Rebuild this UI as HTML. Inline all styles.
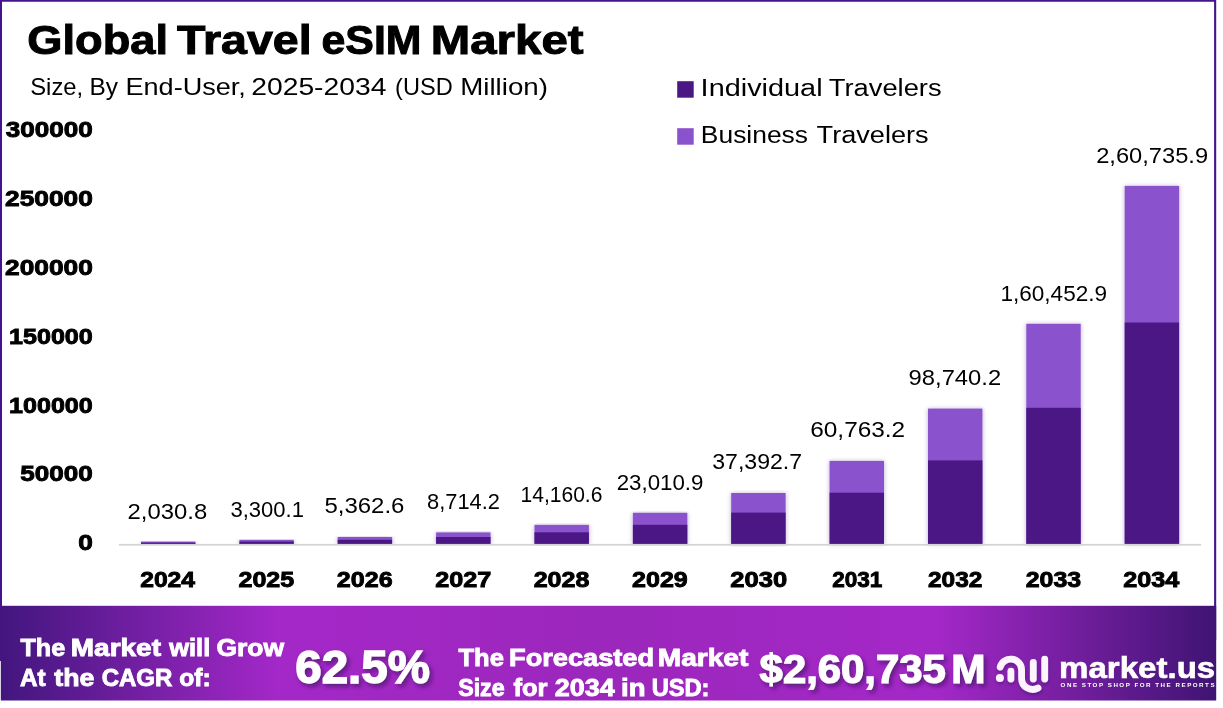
<!DOCTYPE html>
<html lang="en"><head><meta charset="utf-8"><title>Global Travel eSIM Market</title>
<style>
html,body{margin:0;padding:0;background:#fff;}
body{width:1223px;height:708px;overflow:hidden;font-family:"Liberation Sans", sans-serif;}
svg{display:block;}
text{font-family:"Liberation Sans", sans-serif;}
.b{font-weight:700;}
.w{fill:#fff;}
</style></head><body>
<svg width="1223" height="708" viewBox="0 0 1223 708">
<defs>
<linearGradient id="bg" x1="0" y1="0" x2="1" y2="0">
<stop offset="0" stop-color="#42167e"/>
<stop offset="0.23" stop-color="#a428c8"/>
<stop offset="0.5" stop-color="#9c27bc"/>
<stop offset="0.77" stop-color="#a428c8"/>
<stop offset="1" stop-color="#3f1473"/>
</linearGradient>
<filter id="sh" x="-20%" y="-5%" width="140%" height="110%"><feGaussianBlur stdDeviation="2"/></filter>
<filter id="ls" x="-20%" y="-20%" width="140%" height="160%"><feDropShadow dx="0.5" dy="2" stdDeviation="1.5" flood-color="#2a0a50" flood-opacity="0.35"/></filter>
<filter id="ts" x="-10%" y="-20%" width="120%" height="150%"><feDropShadow dx="2.5" dy="3" stdDeviation="2.2" flood-color="#2a0a50" flood-opacity="0.6"/></filter>
</defs>
<rect x="0" y="0" width="1223" height="708" fill="#ffffff"/>
<!-- frame -->
<path d="M0 0H1216.2V640H1214.1V1.8H2V640H0Z" fill="#44138e"/>
<g>
<text x="27.39" y="53.9" font-size="41.2" textLength="140.68" lengthAdjust="spacingAndGlyphs" class="b" stroke="#000" stroke-width="1.0">Global</text>
<text x="177.00" y="53.9" font-size="41.2" textLength="134.65" lengthAdjust="spacingAndGlyphs" class="b" stroke="#000" stroke-width="1.0">Travel</text>
<text x="321.56" y="53.9" font-size="41.2" textLength="99.95" lengthAdjust="spacingAndGlyphs" class="b" stroke="#000" stroke-width="1.0">eSIM</text>
<text x="430.84" y="53.9" font-size="41.2" textLength="152.69" lengthAdjust="spacingAndGlyphs" class="b" stroke="#000" stroke-width="1.0">Market</text>
</g>
<g>
<text x="30.26" y="95.2" font-size="23.7" textLength="52.92" lengthAdjust="spacingAndGlyphs">Size,</text>
<text x="89.49" y="95.2" font-size="23.7" textLength="28.51" lengthAdjust="spacingAndGlyphs">By</text>
<text x="125.48" y="95.2" font-size="23.7" textLength="120.44" lengthAdjust="spacingAndGlyphs">End-User,</text>
<text x="251.28" y="95.2" font-size="23.7" textLength="135.13" lengthAdjust="spacingAndGlyphs">2025-2034</text>
<text x="395.09" y="95.2" font-size="23.7" textLength="57.62" lengthAdjust="spacingAndGlyphs">(USD</text>
<text x="460.23" y="95.2" font-size="23.7" textLength="87.80" lengthAdjust="spacingAndGlyphs">Million)</text>
</g>
<rect x="677.2" y="81.2" width="16.5" height="16.5" fill="#4b1785"/>
<rect x="677.2" y="128.2" width="16.5" height="16.5" fill="#8b52ce"/>
<text x="700.64" y="96.3" font-size="23.3" textLength="121.96" lengthAdjust="spacingAndGlyphs">Individual</text>
<text x="828.77" y="96.3" font-size="23.3" textLength="112.88" lengthAdjust="spacingAndGlyphs">Travelers</text>
<text x="700.84" y="142.9" font-size="23.3" textLength="107.19" lengthAdjust="spacingAndGlyphs">Business</text>
<text x="816.58" y="142.9" font-size="23.3" textLength="112.07" lengthAdjust="spacingAndGlyphs">Travelers</text>
<text x="78.23" y="550.1" font-size="22.5" textLength="14.58" lengthAdjust="spacingAndGlyphs" class="b" stroke="#000" stroke-width="0.9">0</text>
<text x="20.34" y="481.3" font-size="22.5" textLength="72.46" lengthAdjust="spacingAndGlyphs" class="b" stroke="#000" stroke-width="0.9">50000</text>
<text x="9.08" y="412.5" font-size="22.5" textLength="83.68" lengthAdjust="spacingAndGlyphs" class="b" stroke="#000" stroke-width="0.9">100000</text>
<text x="9.08" y="343.8" font-size="22.5" textLength="83.68" lengthAdjust="spacingAndGlyphs" class="b" stroke="#000" stroke-width="0.9">150000</text>
<text x="5.03" y="275.0" font-size="22.5" textLength="87.79" lengthAdjust="spacingAndGlyphs" class="b" stroke="#000" stroke-width="0.9">200000</text>
<text x="5.03" y="206.2" font-size="22.5" textLength="87.79" lengthAdjust="spacingAndGlyphs" class="b" stroke="#000" stroke-width="0.9">250000</text>
<text x="5.84" y="137.4" font-size="22.5" textLength="86.96" lengthAdjust="spacingAndGlyphs" class="b" stroke="#000" stroke-width="0.9">300000</text>
<rect x="140.5" y="541.6" width="55.4" height="2.8" fill="#5a3a90" opacity="0.35" filter="url(#sh)"/>
<rect x="141.0" y="541.6" width="54.4" height="2.8" fill="#8b52ce"/>
<rect x="141.0" y="542.7" width="54.4" height="1.7" fill="#4b1785"/>
<rect x="238.9" y="539.9" width="55.4" height="4.5" fill="#5a3a90" opacity="0.35" filter="url(#sh)"/>
<rect x="239.4" y="539.9" width="54.4" height="4.5" fill="#8b52ce"/>
<rect x="239.4" y="541.6" width="54.4" height="2.8" fill="#4b1785"/>
<rect x="337.2" y="537.0" width="55.4" height="7.4" fill="#5a3a90" opacity="0.35" filter="url(#sh)"/>
<rect x="337.7" y="537.0" width="54.4" height="7.4" fill="#8b52ce"/>
<rect x="337.7" y="539.8" width="54.4" height="4.6" fill="#4b1785"/>
<rect x="435.6" y="532.4" width="55.4" height="12.0" fill="#5a3a90" opacity="0.35" filter="url(#sh)"/>
<rect x="436.1" y="532.4" width="54.4" height="12.0" fill="#8b52ce"/>
<rect x="436.1" y="537.0" width="54.4" height="7.4" fill="#4b1785"/>
<rect x="534.0" y="524.9" width="55.4" height="19.5" fill="#5a3a90" opacity="0.35" filter="url(#sh)"/>
<rect x="534.5" y="524.9" width="54.4" height="19.5" fill="#8b52ce"/>
<rect x="534.5" y="532.3" width="54.4" height="12.1" fill="#4b1785"/>
<rect x="632.4" y="512.8" width="55.4" height="31.6" fill="#5a3a90" opacity="0.35" filter="url(#sh)"/>
<rect x="632.9" y="512.8" width="54.4" height="31.6" fill="#8b52ce"/>
<rect x="632.9" y="524.8" width="54.4" height="19.6" fill="#4b1785"/>
<rect x="730.7" y="493.0" width="55.4" height="51.4" fill="#5a3a90" opacity="0.35" filter="url(#sh)"/>
<rect x="731.2" y="493.0" width="54.4" height="51.4" fill="#8b52ce"/>
<rect x="731.2" y="512.6" width="54.4" height="31.8" fill="#4b1785"/>
<rect x="829.1" y="460.9" width="55.4" height="83.5" fill="#5a3a90" opacity="0.35" filter="url(#sh)"/>
<rect x="829.6" y="460.9" width="54.4" height="83.5" fill="#8b52ce"/>
<rect x="829.6" y="492.7" width="54.4" height="51.7" fill="#4b1785"/>
<rect x="927.5" y="408.6" width="55.4" height="135.8" fill="#5a3a90" opacity="0.35" filter="url(#sh)"/>
<rect x="928.0" y="408.6" width="54.4" height="135.8" fill="#8b52ce"/>
<rect x="928.0" y="460.4" width="54.4" height="84.0" fill="#4b1785"/>
<rect x="1025.8" y="323.8" width="55.4" height="220.6" fill="#5a3a90" opacity="0.35" filter="url(#sh)"/>
<rect x="1026.3" y="323.8" width="54.4" height="220.6" fill="#8b52ce"/>
<rect x="1026.3" y="407.8" width="54.4" height="136.6" fill="#4b1785"/>
<rect x="1124.2" y="185.9" width="55.4" height="358.5" fill="#5a3a90" opacity="0.35" filter="url(#sh)"/>
<rect x="1124.7" y="185.9" width="54.4" height="358.5" fill="#8b52ce"/>
<rect x="1124.7" y="322.5" width="54.4" height="221.9" fill="#4b1785"/>
<rect x="119" y="543.9" width="1082" height="1.7" fill="#d3d3d3"/>
<text x="127.58" y="518.5" font-size="22.5" textLength="79.58" lengthAdjust="spacingAndGlyphs">2,030.8</text>
<text x="230.51" y="516.6" font-size="22.5" textLength="73.48" lengthAdjust="spacingAndGlyphs">3,300.1</text>
<text x="324.45" y="512.9" font-size="22.5" textLength="80.02" lengthAdjust="spacingAndGlyphs">5,362.6</text>
<text x="427.12" y="509.3" font-size="22.5" textLength="72.77" lengthAdjust="spacingAndGlyphs">8,714.2</text>
<text x="520.48" y="501.5" font-size="22.5" textLength="81.97" lengthAdjust="spacingAndGlyphs">14,160.6</text>
<text x="616.66" y="489.8" font-size="22.5" textLength="86.75" lengthAdjust="spacingAndGlyphs">23,010.9</text>
<text x="712.28" y="469.0" font-size="22.5" textLength="89.86" lengthAdjust="spacingAndGlyphs">37,392.7</text>
<text x="810.26" y="437.1" font-size="22.5" textLength="94.93" lengthAdjust="spacingAndGlyphs">60,763.2</text>
<text x="908.59" y="385.2" font-size="22.5" textLength="92.58" lengthAdjust="spacingAndGlyphs">98,740.2</text>
<text x="1000.49" y="301.1" font-size="22.5" textLength="106.52" lengthAdjust="spacingAndGlyphs">1,60,452.9</text>
<text x="1096.19" y="162.7" font-size="22.5" textLength="111.87" lengthAdjust="spacingAndGlyphs">2,60,735.9</text>
<text x="140.18" y="587.3" font-size="22.5" textLength="54.91" lengthAdjust="spacingAndGlyphs" class="b" stroke="#000" stroke-width="0.9">2024</text>
<text x="238.47" y="587.3" font-size="22.5" textLength="55.71" lengthAdjust="spacingAndGlyphs" class="b" stroke="#000" stroke-width="0.9">2025</text>
<text x="336.87" y="587.3" font-size="22.5" textLength="55.71" lengthAdjust="spacingAndGlyphs" class="b" stroke="#000" stroke-width="0.9">2026</text>
<text x="435.26" y="587.3" font-size="22.5" textLength="56.11" lengthAdjust="spacingAndGlyphs" class="b" stroke="#000" stroke-width="0.9">2027</text>
<text x="533.67" y="587.3" font-size="22.5" textLength="55.71" lengthAdjust="spacingAndGlyphs" class="b" stroke="#000" stroke-width="0.9">2028</text>
<text x="632.07" y="587.3" font-size="22.5" textLength="55.71" lengthAdjust="spacingAndGlyphs" class="b" stroke="#000" stroke-width="0.9">2029</text>
<text x="730.35" y="587.3" font-size="22.5" textLength="56.83" lengthAdjust="spacingAndGlyphs" class="b" stroke="#000" stroke-width="0.9">2030</text>
<text x="832.15" y="587.3" font-size="22.5" textLength="50.17" lengthAdjust="spacingAndGlyphs" class="b" stroke="#000" stroke-width="0.9">2031</text>
<text x="927.99" y="587.3" font-size="22.5" textLength="54.37" lengthAdjust="spacingAndGlyphs" class="b" stroke="#000" stroke-width="0.9">2032</text>
<text x="1025.67" y="587.3" font-size="22.5" textLength="55.50" lengthAdjust="spacingAndGlyphs" class="b" stroke="#000" stroke-width="0.9">2033</text>
<text x="1123.26" y="587.3" font-size="22.5" textLength="56.13" lengthAdjust="spacingAndGlyphs" class="b" stroke="#000" stroke-width="0.9">2034</text>
<rect x="0" y="605.8" width="1216.2" height="94.7" fill="url(#bg)"/>
<rect x="0" y="661" width="0.8" height="40" fill="#fff"/>
<text x="20.45" y="655.6" font-size="24.3" textLength="44.73" lengthAdjust="spacingAndGlyphs" class="b w" stroke="#fff" stroke-width="0.9">The</text>
<text x="70.80" y="655.6" font-size="24.3" textLength="90.19" lengthAdjust="spacingAndGlyphs" class="b w" stroke="#fff" stroke-width="0.9">Market</text>
<text x="169.25" y="655.6" font-size="24.3" textLength="41.01" lengthAdjust="spacingAndGlyphs" class="b w" stroke="#fff" stroke-width="0.9">will</text>
<text x="216.42" y="655.6" font-size="24.3" textLength="67.64" lengthAdjust="spacingAndGlyphs" class="b w" stroke="#fff" stroke-width="0.9">Grow</text>
<text x="20.07" y="685.7" font-size="24.3" textLength="25.60" lengthAdjust="spacingAndGlyphs" class="b w" stroke="#fff" stroke-width="0.9">At</text>
<text x="54.35" y="685.7" font-size="24.3" textLength="40.07" lengthAdjust="spacingAndGlyphs" class="b w" stroke="#fff" stroke-width="0.9">the</text>
<text x="101.70" y="685.7" font-size="24.3" textLength="70.71" lengthAdjust="spacingAndGlyphs" class="b w" stroke="#fff" stroke-width="0.9">CAGR</text>
<text x="179.28" y="685.7" font-size="24.3" textLength="31.52" lengthAdjust="spacingAndGlyphs" class="b w" stroke="#fff" stroke-width="0.9">of:</text>
<text x="295.22" y="683.2" font-size="45.7" textLength="134.66" lengthAdjust="spacingAndGlyphs" class="b w" stroke="#fff" stroke-width="1.4" filter="url(#ts)">62.5%</text>
<text x="458.55" y="666.0" font-size="24.3" textLength="45.34" lengthAdjust="spacingAndGlyphs" class="b w" stroke="#fff" stroke-width="0.9">The</text>
<text x="509.05" y="666.0" font-size="24.3" textLength="145.04" lengthAdjust="spacingAndGlyphs" class="b w" stroke="#fff" stroke-width="0.9">Forecasted</text>
<text x="657.80" y="666.0" font-size="24.3" textLength="90.49" lengthAdjust="spacingAndGlyphs" class="b w" stroke="#fff" stroke-width="0.9">Market</text>
<text x="458.19" y="696.4" font-size="24.3" textLength="46.44" lengthAdjust="spacingAndGlyphs" class="b w" stroke="#fff" stroke-width="0.9">Size</text>
<text x="513.45" y="696.4" font-size="24.3" textLength="34.06" lengthAdjust="spacingAndGlyphs" class="b w" stroke="#fff" stroke-width="0.9">for</text>
<text x="554.81" y="696.4" font-size="24.3" textLength="59.87" lengthAdjust="spacingAndGlyphs" class="b w" stroke="#fff" stroke-width="0.9">2034</text>
<text x="621.13" y="696.4" font-size="24.3" textLength="24.45" lengthAdjust="spacingAndGlyphs" class="b w" stroke="#fff" stroke-width="0.9">in</text>
<text x="651.64" y="696.4" font-size="24.3" textLength="57.88" lengthAdjust="spacingAndGlyphs" class="b w" stroke="#fff" stroke-width="0.9">USD:</text>
<g filter="url(#ts)"><text x="759.60" y="682.7" font-size="39.8" textLength="186.24" lengthAdjust="spacingAndGlyphs" class="b w" stroke="#fff" stroke-width="1.2">$2,60,735</text>
<text x="951.33" y="682.7" font-size="39.8" textLength="34.19" lengthAdjust="spacingAndGlyphs" class="b w" stroke="#fff" stroke-width="1.2">M</text>
</g>
<g fill="none" stroke="#fdf4ff" stroke-width="6.8" stroke-linecap="round" filter="url(#ls)">
<path d="M1000.2 667.1 A10.9 10.9 0 0 1 1021.6 670 L1021.6 678.4 A11 11 0 0 0 1038 688"/>
<path d="M1010.9 671.2 L1010.9 679.1"/>
<path d="M1033.3 662.4 L1033.3 679.1"/>
<path d="M1044.7 659.1 L1044.7 679.1"/>
<path d="M999.9 678.1 h0.01" stroke-width="8"/>
</g>
<text x="1059.13" y="677.7" font-size="29.2" textLength="156.10" lengthAdjust="spacingAndGlyphs" class="b w" stroke="#fff" stroke-width="0.6">market.us</text>
<text x="1060.56" y="687.3" font-size="6.2" textLength="153.97" lengthAdjust="spacing" class="b w">ONE STOP SHOP FOR THE REPORTS</text>
</svg>
</body></html>
